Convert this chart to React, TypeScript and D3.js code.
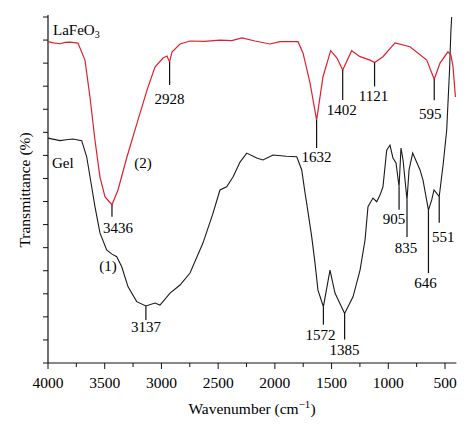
import React from 'react';
import * as d3 from 'd3';

// FTIR spectra: [wavenumber (cm-1), transmittance (arb.)]
const lafeo3: [number, number][] = [
  [4000, 139.3], [3950, 138.8], [3894, 138.4], [3850, 139.0], [3806, 139.1], [3736, 138.7],
  [3674, 131.3], [3630, 115.3], [3586, 96.7], [3542, 80.6], [3497, 72.0], [3436, 68.6],
  [3383, 75.0], [3304, 89.3], [3215, 104.0], [3127, 118.3], [3057, 128.3], [2986, 132.2],
  [2951, 133.1], [2928, 130.5], [2907, 134.8], [2836, 138.3], [2748, 139.6], [2620, 139.4],
  [2484, 140.0], [2380, 139.8], [2290, 140.9], [2175, 139.6], [2043, 138.3], [1955, 139.3],
  [1796, 139.3], [1752, 134.4], [1690, 121.4], [1632, 105.3], [1576, 124.0], [1508, 135.4],
  [1452, 132.2], [1402, 127.0], [1323, 135.4], [1249, 132.8], [1161, 131.3], [1121, 130.3],
  [1047, 132.8], [941, 138.8], [809, 137.1], [661, 131.3], [595, 123.0], [544, 130.0],
  [474, 134.9], [448, 133.5], [430, 128.7], [408, 115.3],
];

const gel: [number, number][] = [
  [4000, 97.5], [3894, 96.4], [3840, 96.8], [3780, 97.1], [3703, 96.4], [3659, 89.4],
  [3615, 76.4], [3586, 67.8], [3542, 56.4], [3483, 49.0], [3436, 47.2], [3394, 46.1],
  [3350, 41.7], [3295, 33.1], [3218, 26.6], [3137, 24.7], [3057, 26.0], [3013, 25.1],
  [2924, 30.3], [2836, 33.8], [2748, 39.0], [2634, 52.0], [2545, 65.0], [2484, 75.0],
  [2425, 76.4], [2369, 80.6], [2307, 87.1], [2248, 91.0], [2160, 88.9], [2105, 88.0],
  [2016, 90.2], [1900, 89.6], [1807, 89.4], [1763, 83.7], [1734, 73.7], [1720, 69.4],
  [1675, 54.7], [1646, 43.3], [1620, 31.6], [1572, 24.4], [1514, 40.3], [1470, 30.3],
  [1385, 21.5], [1311, 28.7], [1249, 40.3], [1205, 53.3], [1179, 67.8], [1135, 71.5],
  [1102, 69.9], [1073, 72.8], [1047, 76.4], [1014, 92.3], [985, 94.5], [959, 88.9],
  [932, 86.7], [905, 76.4], [888, 93.2], [870, 88.0], [835, 70.7], [817, 83.7],
  [785, 91.0], [720, 83.7], [694, 79.3], [646, 66.3], [617, 70.7], [597, 75.0],
  [551, 72.1], [515, 86.7], [485, 101.0], [460, 127.0], [448, 144.0], [441, 150.0],
];

const redPeaks = ['2928', '3436', '1632', '1402', '1121', '595'];
const gelPeaks = ['3137', '1572', '1385', '905', '835', '646', '551'];

const xMajor = [4000, 3500, 3000, 2500, 2000, 1500, 1000, 500];
const xMinor = [3750, 3250, 2750, 2250, 1750, 1250, 750];
const yTicks = d3.range(0, 151, 10);

// leader length, label gap, label x shift (px)
const peakLayout: Record<string, [number, number, number]> = {
  '2928': [23, 19, 0], '3436': [12, 16, 6], '1632': [28, 14, 0], '1402': [30, 15, -1],
  '1121': [24, 15, -1], '595': [21, 19, -4], '3137': [14, 12, 0], '1572': [18, 15, -3],
  '1385': [26, 16, 0], '905': [23, 14, -5], '835': [37, 16, -1], '646': [63, 15, -3],
  '551': [26, 19, 4],
};

const W = 474;
const H = 436;
const left = 48;
const bottom = 363;

const App = () => {
  const x = d3.scaleLinear().domain([4000, 400]).range([left, left + 3600 * 0.11343]);
  const y = d3.scaleLinear().domain([0, 150]).range([bottom, bottom - 346]);
  const line = d3.line<[number, number]>().x(d => x(d[0])).y(d => y(d[1]));
  const font = '"Liberation Serif", "DejaVu Serif", serif';

  const peaks = (names: string[], series: [number, number][]) =>
    names.map(name => {
      const wn = +name;
      const pt = series.find(d => d[0] === wn)!;
      const [len, gap, dx] = peakLayout[name];
      const px = x(wn);
      const py = y(pt[1]);
      return (
        <g key={name}>
          <line x1={px} x2={px} y1={py} y2={py + len} stroke="#111" strokeWidth={1.2} />
          <text x={px + dx} y={py + len + gap} textAnchor="middle" fontSize={15}>{name}</text>
        </g>
      );
    });

  return (
    <svg width={W} height={H} style={{ position: 'absolute', left: 0, top: 0, background: '#fff', fontFamily: font }}>
      {/* axes */}
      <line x1={left} x2={left} y1={y(150) - 2} y2={bottom} stroke="#111" strokeWidth={1.2} />
      <line x1={left} x2={x(400)} y1={bottom} y2={bottom} stroke="#111" strokeWidth={1.2} />
      {yTicks.map(t => (
        <line key={t} x1={left - 5} x2={left} y1={y(t)} y2={y(t)} stroke="#111" strokeWidth={1} />
      ))}
      {xMajor.map(t => (
        <line key={t} x1={x(t)} x2={x(t)} y1={bottom} y2={bottom + 6} stroke="#111" strokeWidth={1} />
      ))}
      {xMinor.map(t => (
        <line key={t} x1={x(t)} x2={x(t)} y1={bottom} y2={bottom + 4} stroke="#111" strokeWidth={1} />
      ))}
      {xMajor.map(t => (
        <text key={t} x={x(t)} y={388} textAnchor="middle" fontSize={15.5}>{t}</text>
      ))}
      <text x={252} y={414} textAnchor="middle" fontSize={15.5}>
        Wavenumber (cm<tspan dy={-6} fontSize={11}>−1</tspan><tspan dy={6}>)</tspan>
      </text>
      <text transform={`translate(30, 190) rotate(-90)`} textAnchor="middle" fontSize={15.5}>Transmittance (%)</text>

      {/* spectra */}
      <path d={line(gel) ?? ''} fill="none" stroke="#1a1a1a" strokeWidth={1.1} />
      <path d={line(lafeo3) ?? ''} fill="none" stroke="#e0202c" strokeWidth={1.2} />

      {peaks(redPeaks, lafeo3)}
      {peaks(gelPeaks, gel)}

      <text x={53} y={35} fontSize={15}>LaFeO<tspan dy={3} fontSize={10}>3</tspan></text>
      <text x={52} y={168} fontSize={15}>Gel</text>
      <text x={143} y={168} textAnchor="middle" fontSize={15}>(2)</text>
      <text x={108} y={271} textAnchor="middle" fontSize={15}>(1)</text>
    </svg>
  );
};

export default App;
